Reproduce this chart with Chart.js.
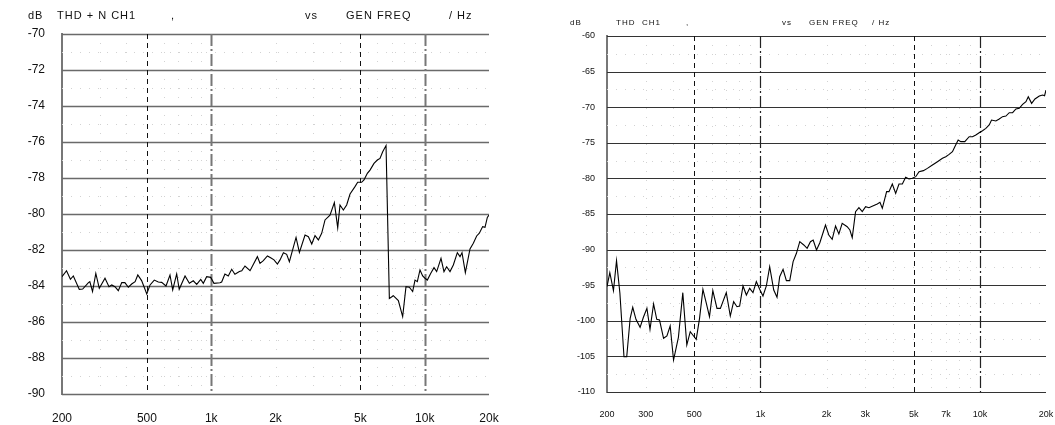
<!DOCTYPE html>
<html>
<head>
<meta charset="utf-8">
<script src="https://cdn.jsdelivr.net/npm/chart.js@4.4.1/dist/chart.umd.min.js"></script>
<style>
  body { margin: 0; background: #fff; width: 1055px; height: 425px; overflow: hidden; position: relative; }
  .box { position: absolute; top: 0; }
  .t { position: absolute; font-family: "Liberation Sans", Arial, sans-serif; color: #111; white-space: pre; }
  .t1 { font-size: 11px; letter-spacing: 1px; top: 9px; }
  .t2 { font-size: 8px; letter-spacing: 1px; top: 18px; }
</style>
</head>
<body>
<div class="box" style="left:0;width:520px;height:425px"><canvas id="thdnChart" width="520" height="425"></canvas></div>
<div class="box" style="left:530px;width:525px;height:425px"><canvas id="thdChart" width="525" height="425"></canvas></div>

<span class="t t1" style="left:28px">dB</span>
<span class="t t1" style="left:57px">THD + N CH1</span>
<span class="t t1" style="left:171px">,</span>
<span class="t t1" style="left:305px">vs</span>
<span class="t t1" style="left:346px">GEN FREQ</span>
<span class="t t1" style="left:449px">/ Hz</span>

<span class="t t2" style="left:570px">dB</span>
<span class="t t2" style="left:616px">THD&nbsp;&nbsp;CH1</span>
<span class="t t2" style="left:686px">,</span>
<span class="t t2" style="left:782px">vs</span>
<span class="t t2" style="left:809px">GEN FREQ</span>
<span class="t t2" style="left:872px">/ Hz</span>

<script>
// left chart: THD+N vs frequency
const thdnFreq = [200, 210, 219, 226, 241, 250, 266, 270, 278, 288, 299, 318, 332, 342, 354, 367, 381, 394, 409, 424,
    440, 453, 472, 499, 517, 541, 565, 586, 614, 641, 660, 689, 708, 754, 790, 824, 855, 893, 918, 952,
    994, 1030, 1099, 1119, 1159, 1202, 1247, 1291, 1355, 1390, 1439, 1520, 1645, 1692, 1754, 1833, 1898, 1968, 2041, 2100,
    2178, 2256, 2323, 2496, 2588, 2750, 2852, 2957, 3063, 3176, 3291, 3412, 3600, 3773, 3912, 4010, 4157, 4309, 4468, 4714,
    4852, 5064, 5193, 5386, 5542, 5786, 5998, 6173, 6355, 6588, 6829, 7128, 7523, 7882, 8170, 8470, 8780, 9004, 9232, 9502,
    9780, 10028, 10284, 10660, 11052, 11374, 11918, 12308, 12668, 13132, 13614, 14214, 14630, 14948, 15498, 16294, 16890, 17508, 18020, 18678,
    19158, 19644, 20000];
const thdnDb = [-83.48, -83.15, -83.63, -83.44, -84.19, -84.17, -83.81, -83.76, -84.31, -83.30, -84.13, -83.57, -84.04, -83.94, -84.04, -84.26, -83.81, -83.81, -84.07, -83.89,
    -83.76, -83.39, -83.70, -84.44, -83.94, -83.67, -83.78, -83.80, -84.00, -83.39, -84.22, -83.33, -84.18, -83.44, -83.85, -83.71, -83.91, -83.63, -83.85, -83.48,
    -83.52, -83.85, -83.82, -83.78, -83.33, -83.44, -83.07, -83.35, -83.20, -83.15, -82.89, -83.15, -82.37, -82.74, -82.59, -82.33, -82.43, -82.55, -82.78, -82.55,
    -82.15, -82.24, -82.65, -81.30, -82.13, -81.17, -81.26, -81.67, -81.20, -81.44, -81.07, -80.33, -80.06, -79.37, -80.76, -79.50, -79.78, -79.50, -78.89, -78.48,
    -78.24, -78.24, -78.11, -77.74, -77.56, -77.19, -77.00, -76.91, -76.54, -76.20, -84.69, -84.54, -84.81, -85.70, -84.04, -84.07, -84.31, -83.67, -83.76, -83.11,
    -83.44, -83.57, -83.67, -83.30, -82.98, -83.20, -82.46, -83.20, -82.93, -83.20, -82.83, -82.15, -82.37, -82.15, -83.26, -81.94, -81.63, -81.22, -81.07, -80.70,
    -80.74, -80.19, -80.06];

// right chart: THD vs frequency
const thdFreq = [200, 206, 214, 221, 229, 239, 246, 255, 262, 271, 283, 293, 304, 314, 326, 337, 347, 362, 375, 388,
    402, 423, 443, 462, 479, 496, 510, 528, 547, 566, 586, 607, 634, 657, 699, 729, 755, 782, 804, 833,
    863, 893, 925, 958, 992, 1027, 1064, 1102, 1150, 1190, 1224, 1268, 1313, 1360, 1409, 1459, 1511, 1576, 1632, 1690,
    1739, 1801, 1865, 1979, 2049, 2123, 2199, 2277, 2358, 2485, 2556, 2620, 2713, 2810, 2910, 3014, 3122, 3268, 3408, 3504,
    3592, 3758, 3852, 3989, 4132, 4278, 4432, 4589, 4753, 4922, 5098, 5280, 5526, 5764, 6076, 6404, 6750, 6990, 7239, 7497,
    7685, 7959, 8184, 8534, 8933, 9250, 9580, 9921, 10275, 10641, 11021, 11296, 11823, 12244, 12680, 13133, 13601, 14086, 14588, 15108,
    15647, 16205, 16606, 17200, 17813, 18648, 19313, 19700, 20000];
const thdDb = [-95.2, -93.24, -95.77, -91.55, -96.14, -105.04, -105.04, -99.65, -98.11, -99.79, -100.92, -99.51, -98.25, -101.20, -97.64, -99.79, -99.89, -102.46, -102.13, -100.73,
    -105.51, -102.32, -96.05, -103.40, -101.53, -102.13, -102.60, -99.65, -95.58, -97.45, -99.42, -95.77, -98.25, -98.25, -96.05, -99.33, -97.31, -98.02, -97.92, -95.11,
    -96.38, -95.44, -96.05, -94.50, -95.58, -96.52, -95.11, -92.40, -95.67, -96.70, -93.80, -92.77, -94.36, -94.36, -91.69, -90.52, -88.89, -89.35, -89.82, -88.89,
    -88.65, -90.06, -89.03, -86.55, -87.95, -88.56, -86.69, -87.81, -86.31, -86.78, -87.25, -88.32, -84.67, -84.11, -84.67, -83.97, -84.11, -83.83, -83.59, -83.36,
    -84.20, -81.86, -81.86, -80.79, -82.10, -80.79, -80.79, -79.85, -80.08, -79.99, -79.76, -79.05, -78.91, -78.59, -78.12, -77.65, -77.18, -76.95, -76.62, -76.25,
    -75.54, -74.61, -74.84, -74.84, -74.14, -74.14, -73.90, -73.58, -73.30, -72.97, -72.50, -71.80, -71.94, -71.66, -71.33, -71.24, -70.77, -70.77, -70.25, -70.16,
    -69.60, -69.22, -68.52, -69.46, -68.85, -68.43, -68.29, -68.38, -67.60];

// tick labels
const thdnTickFreq = [200, 500, 1000, 2000, 5000, 10000, 20000];
const thdnTickText = ['200', '500', '1k', '2k', '5k', '10k', '20k'];
const thdTickFreq = [200, 300, 500, 1000, 2000, 3000, 5000, 7000, 10000, 20000];
const thdTickText = ['200', '300', '500', '1k', '2k', '3k', '5k', '7k', '10k', '20k'];
const minorFreq = [300, 400, 600, 700, 800, 900, 2000, 3000, 4000, 6000, 7000, 8000, 9000];
const dashedFreq = [500, 5000];
const decadeFreq = [1000, 10000];

// grid drawn by hand so each line can get its own dash
const refGrid = {
    id: 'refGrid',
    beforeDatasetsDraw(chart, args, opts) {
        const { ctx, chartArea: a, scales: { x, y } } = chart;
        ctx.save();
        ctx.lineWidth = 1;
        ctx.strokeStyle = '#d2d2d2';
        ctx.setLineDash([1, 8]);
        opts.minorX.forEach(v => {
            const px = Math.round(x.getPixelForValue(v)) + 0.5;
            ctx.beginPath(); ctx.moveTo(px, a.top); ctx.lineTo(px, a.bottom); ctx.stroke();
        });
        opts.minorY.forEach(v => {
            const py = Math.round(y.getPixelForValue(v)) + 0.5;
            ctx.beginPath(); ctx.moveTo(a.left, py); ctx.lineTo(a.right, py); ctx.stroke();
        });
        ctx.setLineDash([]);
        ctx.strokeStyle = opts.hColor;
        ctx.lineWidth = opts.hWidth;
        opts.majorY.forEach(v => {
            const py = Math.round(y.getPixelForValue(v)) + 0.5;
            ctx.beginPath(); ctx.moveTo(a.left, py); ctx.lineTo(a.right, py); ctx.stroke();
        });
        ctx.strokeStyle = '#111';
        ctx.lineWidth = 1;
        ctx.setLineDash([5, 4]);
        opts.dashed.forEach(v => {
            const px = Math.round(x.getPixelForValue(v)) + 0.5;
            ctx.beginPath(); ctx.moveTo(px, a.top); ctx.lineTo(px, a.bottom); ctx.stroke();
        });
        ctx.strokeStyle = opts.decColor;
        ctx.lineWidth = opts.decWidth;
        ctx.setLineDash([12, 3, 2, 3]);
        opts.decade.forEach(v => {
            const px = Math.round(x.getPixelForValue(v)) + 0.5;
            ctx.beginPath(); ctx.moveTo(px, a.top); ctx.lineTo(px, a.bottom); ctx.stroke();
        });
        ctx.restore();
    }
};

function majorSteps(min, max, step) {
    const out = [];
    for (let v = min; v <= max + 1e-9; v += step) out.push(v);
    return out;
}

function makeChart(id, cfg) {
    return new Chart(document.getElementById(id).getContext('2d'), {
        type: 'line',
        data: {
            datasets: [{
                data: cfg.freq.map((f, i) => ({ x: f, y: cfg.db[i] })),
                borderColor: '#000',
                borderWidth: 1.1,
                pointRadius: 0,
                tension: 0,
                fill: false
            }]
        },
        options: {
            responsive: false,
            animation: false,
            layout: { padding: { top: cfg.padTop, right: cfg.padRight, left: 0, bottom: 0 } },
            plugins: {
                legend: { display: false },
                tooltip: { enabled: false },
                refGrid: {
                    minorX: minorFreq,
                    minorY: cfg.minorY,
                    majorY: majorSteps(cfg.yMin, cfg.yMax, cfg.yStep),
                    dashed: dashedFreq,
                    decade: decadeFreq,
                    hColor: cfg.hColor,
                    hWidth: cfg.hWidth,
                    decColor: cfg.decColor,
                    decWidth: cfg.decWidth
                }
            },
            scales: {
                x: {
                    type: 'logarithmic',
                    min: 200,
                    max: 20000,
                    afterBuildTicks: s => { s.ticks = cfg.tickFreq.map(v => ({ value: v })); },
                    afterFit: s => { s.height = cfg.xHeight; s.paddingLeft = 0; s.paddingRight = 0; },
                    grid: { display: false },
                    border: { display: false },
                    ticks: {
                        autoSkip: false,
                        maxRotation: 0,
                        padding: cfg.xPad,
                        color: '#111',
                        font: { family: 'Liberation Sans, Arial, sans-serif', size: cfg.xFont },
                        callback: v => cfg.tickText[cfg.tickFreq.indexOf(v)]
                    }
                },
                y: {
                    min: cfg.yMin,
                    max: cfg.yMax,
                    afterFit: s => { s.width = cfg.yWidth; s.paddingTop = 0; s.paddingBottom = 0; },
                    grid: { display: false, drawTicks: false },
                    border: { display: true, color: '#777', width: 2 },
                    ticks: {
                        stepSize: cfg.yStep,
                        padding: cfg.yPad,
                        color: '#111',
                        font: { family: 'Liberation Sans, Arial, sans-serif', size: cfg.yFont }
                    }
                }
            }
        },
        plugins: [refGrid]
    });
}

const thdnChart = makeChart('thdnChart', {
    freq: thdnFreq, db: thdnDb,
    tickFreq: thdnTickFreq, tickText: thdnTickText,
    yMin: -90, yMax: -70, yStep: 2,
    minorY: [-71, -73, -75, -77, -79, -81, -83, -85, -87, -89],
    padTop: 34, padRight: 31, yWidth: 62, xHeight: 31,
    xPad: 9, yPad: 17, xFont: 12, yFont: 12,
    hColor: '#6a6a6a', hWidth: 1.5, decColor: '#777', decWidth: 2
});

const thdChart = makeChart('thdChart', {
    freq: thdFreq, db: thdDb,
    tickFreq: thdTickFreq, tickText: thdTickText,
    yMin: -110, yMax: -60, yStep: 5,
    minorY: [-62.5, -67.5, -72.5, -77.5, -82.5, -87.5, -92.5, -97.5, -102.5, -107.5],
    padTop: 36, padRight: 9, yWidth: 77, xHeight: 33,
    xPad: 9, yPad: 12, xFont: 9, yFont: 9,
    hColor: '#333', hWidth: 1.2, decColor: '#222', decWidth: 1.2
});
</script>
</body>
</html>
